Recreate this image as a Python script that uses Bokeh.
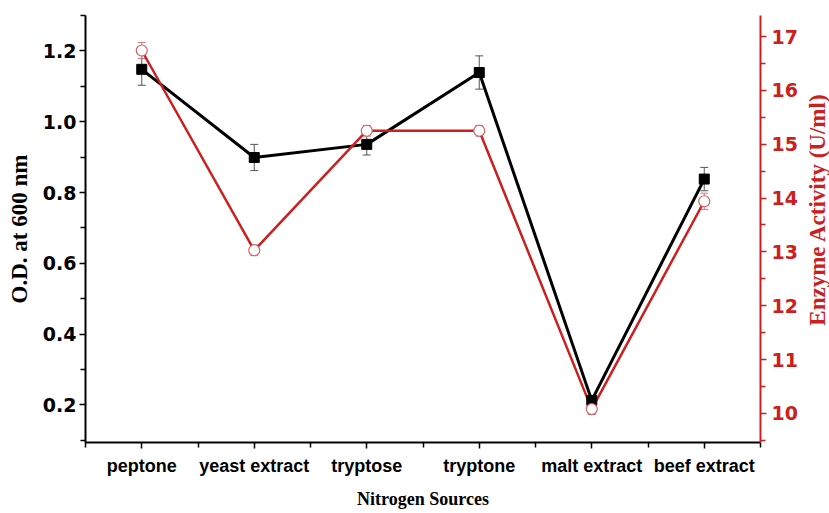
import math
from bokeh.plotting import figure
from bokeh.layouts import row
from bokeh.models import (Range1d, LinearAxis, FixedTicker, ColumnDataSource,
                          Whisker, TeeHead, PrintfTickFormatter, Label)
from bokeh.embed import file_html
from bokeh.resources import INLINE

# Nitrogen sources tested
categories = ["peptone", "yeast extract", "tryptose", "tryptone",
              "malt extract", "beef extract"]

# Growth (optical density at 600 nm) and its error
od_600 = [1.148, 0.899, 0.936, 1.139, 0.213, 0.838]
od_err = [0.045, 0.037, 0.030, 0.047, 0.010, 0.033]

# Enzyme activity (U/ml) and its error
enzyme = [16.74, 13.03, 15.25, 15.25, 10.08, 13.94]
enzyme_err = [0.15, 0.10, 0.10, 0.10, 0.10, 0.15]

RED = "#cc2020"
xpos = list(range(1, len(categories) + 1))

src = ColumnDataSource(dict(
    x=xpos,
    od=od_600,
    od_lo=[v - e for v, e in zip(od_600, od_err)],
    od_hi=[v + e for v, e in zip(od_600, od_err)],
    enz=enzyme,
    enz_lo=[v - e for v, e in zip(enzyme, enzyme_err)],
    enz_hi=[v + e for v, e in zip(enzyme, enzyme_err)],
))

p = figure(width=800, height=513, output_backend="svg", toolbar_location=None,
           x_range=Range1d(0.5, 6.5), y_range=Range1d(0.094, 1.30),
           min_border_left=85, min_border_right=39,
           min_border_top=15, min_border_bottom=71)
p.extra_y_ranges = {"enz": Range1d(9.46, 17.39)}
p.outline_line_color = None
p.xgrid.visible = False
p.ygrid.visible = False
p.background_fill_color = "white"
p.border_fill_color = "white"

# bottom axis: one label per nitrogen source
xa = p.xaxis[0]
xa.ticker = FixedTicker(ticks=xpos,
                        minor_ticks=[x + 0.5 for x in [0] + xpos])
xa.major_label_overrides = {x: c for x, c in zip(xpos, categories)}
xa.axis_label = "Nitrogen Sources"

# left axis: O.D.
ya = p.yaxis[0]
ya.ticker = FixedTicker(ticks=[0.2, 0.4, 0.6, 0.8, 1.0, 1.2],
                        minor_ticks=[0.1, 0.3, 0.5, 0.7, 0.9, 1.1, 1.3])
ya.formatter = PrintfTickFormatter(format="%.1f")
ya.axis_label = "O.D. at 600 nm"

# right axis: enzyme activity (its title sits in the strip beside the plot)
ra = LinearAxis(y_range_name="enz",
                ticker=FixedTicker(ticks=list(range(10, 18)),
                                   minor_ticks=[9.5 + i for i in range(9)]))
p.add_layout(ra, "right")

for ax, col in ((xa, "black"), (ya, "black"), (ra, RED)):
    ax.axis_line_color = col
    ax.axis_line_width = 2
    ax.major_tick_line_color = col
    ax.minor_tick_line_color = col
    ax.major_tick_line_width = 1.5
    ax.minor_tick_line_width = 1.5
    ax.major_tick_in = 0
    ax.minor_tick_in = 0
    ax.major_tick_out = 6
    ax.minor_tick_out = 5
    ax.major_label_text_font_style = "bold"
    ax.major_label_text_color = col
    ax.axis_label_text_font = "Liberation Serif"
    ax.axis_label_text_font_style = "bold"
    ax.axis_label_text_color = col

for ax in (ya, ra):
    ax.major_label_text_font = "DejaVu Sans"
    ax.major_label_text_font_size = "19px"
ya.major_label_standoff = 3
ra.major_label_standoff = 5
ya.axis_label_text_font_size = "23px"
ya.axis_label_standoff = 8

xa.major_label_text_font = "Liberation Sans"
xa.major_label_text_font_size = "18px"
xa.major_label_standoff = 7
xa.axis_label_text_font_size = "18px"
xa.axis_label_standoff = 10

# lines
p.line("x", "od", source=src, line_color="black", line_width=3)
p.line("x", "enz", source=src, line_color=RED, line_width=2.5,
       y_range_name="enz")

# error bars
p.add_layout(Whisker(source=src, base="x", lower="od_lo", upper="od_hi",
                     line_color="#555555", line_width=1,
                     upper_head=TeeHead(size=8, line_color="#555555", line_width=1),
                     lower_head=TeeHead(size=8, line_color="#555555", line_width=1)))
p.add_layout(Whisker(source=src, base="x", lower="enz_lo", upper="enz_hi",
                     y_range_name="enz",
                     line_color="#d07878", line_width=1,
                     upper_head=TeeHead(size=8, line_color="#d07878", line_width=1),
                     lower_head=TeeHead(size=8, line_color="#d07878", line_width=1)))

# markers
p.scatter("x", "od", source=src, marker="square", size=10,
          fill_color="black", line_color="black")
p.scatter("x", "enz", source=src, marker="circle", size=11,
          fill_color="white", line_color="#d06060", line_width=1.2,
          y_range_name="enz")

# narrow strip carrying the right-hand title, reading bottom to top
strip = figure(width=29, height=513, output_backend="svg",
               toolbar_location=None, x_range=Range1d(0, 29),
               y_range=Range1d(0, 513), x_axis_type=None, y_axis_type=None,
               min_border=0)
strip.outline_line_color = None
strip.background_fill_color = "white"
strip.border_fill_color = "white"
strip.add_layout(Label(x=17, y=280, text="Enzyme Activity (U/ml)",
                       angle=math.pi / 2, text_align="center",
                       text_baseline="middle", text_font="Liberation Serif",
                       text_font_style="bold", text_font_size="23px",
                       text_color=RED))

open("out.html", "w").write(file_html(row(p, strip, spacing=0), INLINE))
